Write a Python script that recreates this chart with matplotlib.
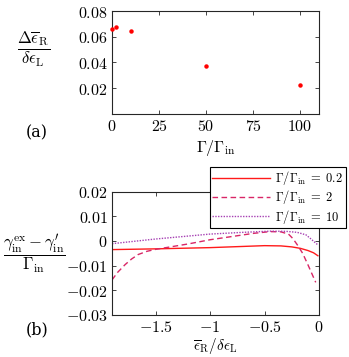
import matplotlib
matplotlib.use("Agg")
import matplotlib.pyplot as plt
from matplotlib.ticker import FuncFormatter, FixedLocator

plt.rcParams['mathtext.fontset'] = 'cm'
plt.rcParams['font.family'] = 'serif'
plt.rcParams['font.serif'] = ['DejaVu Serif']

# Panel (a) data
gamma_ratio = [0.2, 2, 10, 50, 100]
delta_eps = [0.066, 0.0675, 0.0645, 0.0374, 0.0223]

# Panel (b) data
x_02 = [-1.9, -1.5, -1.0, -0.5, -0.35, -0.25, -0.17, -0.1, -0.05, -0.03, -0.01]
y_02 = [-0.0035, -0.0032, -0.0027, -0.0019, -0.002, -0.0024, -0.003, -0.0039,
        -0.0048, -0.0054, -0.006]
x_2 = [-1.9, -1.85, -1.78, -1.72, -1.66, -1.58, -1.5, -1.35, -1.2, -1.0, -0.8,
       -0.6, -0.45, -0.35, -0.28, -0.24, -0.2, -0.15, -0.1, -0.06, -0.03]
y_2 = [-0.0158, -0.0128, -0.0096, -0.0073, -0.0055, -0.0042, -0.0034, -0.0023,
       -0.0012, 0.0005, 0.0018, 0.0031, 0.0038, 0.0037, 0.0028, 0.001, -0.0015,
       -0.005, -0.0098, -0.0138, -0.0168]
x_10 = [-1.9, -1.5, -1.0, -0.7, -0.44, -0.3, -0.2, -0.12, -0.07, -0.04, -0.015]
y_10 = [-0.0011, 0.0008, 0.0028, 0.0035, 0.004, 0.0039, 0.0035, 0.0025, 0.0007,
        -0.0005, -0.0014]

labels_b = [r'$\Gamma/\Gamma_{\rm in}\;=\;0.2$', r'$\Gamma/\Gamma_{\rm in}\;=\;2$',
            r'$\Gamma/\Gamma_{\rm in}\;=\;10$']

fs = 11.5
spine_c = (0.15, 0.15, 0.15)

def mfmt(fmt):
    def f(v, pos):
        return '$' + fmt(v) + '$'
    return FuncFormatter(f)

def style(ax):
    for s in ax.spines.values():
        s.set_color(spine_c)
        s.set_linewidth(0.8)
    ax.tick_params(direction='in', top=True, right=True, length=3,
                   color=spine_c, labelsize=fs, width=0.6, pad=3)

fig = plt.figure(figsize=(3.49, 3.57), dpi=100)

ax1 = fig.add_axes([0.321, 0.681, 0.593, 0.288])
ax1.plot(gamma_ratio, delta_eps, linestyle='none', marker='o', markersize=2.2,
         color=(1, 0, 0), clip_on=False, zorder=5)
ax1.set_xlim(0, 110)
ax1.set_ylim(0, 0.08)
ax1.xaxis.set_major_locator(FixedLocator([0, 25, 50, 75, 100]))
ax1.yaxis.set_major_locator(FixedLocator([0.02, 0.04, 0.06, 0.08]))
ax1.xaxis.set_major_formatter(mfmt(lambda v: '%d' % round(v)))
ax1.yaxis.set_major_formatter(mfmt(lambda v: '%.2f' % v))
style(ax1)
ax1.set_xlabel(r'$\Gamma/\Gamma_{\rm in}$', fontsize=fs, labelpad=2)
fig.text(0.097, 0.86, r'$\dfrac{\Delta\overline{\epsilon}_{\rm R}}{\delta\epsilon_{\rm L}}$',
         fontsize=12, ha='center', va='center')
fig.text(0.105, 0.627, '(a)', fontsize=fs, ha='center', va='center')

ax2 = fig.add_axes([0.321, 0.118, 0.593, 0.345])
ax2.plot(x_02, y_02, '-', color=(1, 0.1, 0.1), lw=1.0, label=labels_b[0])
ax2.plot(x_2, y_2, '--', color=(0.85, 0.15, 0.4), lw=1.0, dashes=(4, 2.5),
         label=labels_b[1])
ax2.plot(x_10, y_10, linestyle=(0, (1, 1)), color=(0.65, 0.25, 0.7), lw=1.0,
         label=labels_b[2])
ax2.set_xlim(-1.9, 0.0)
ax2.set_ylim(-0.03, 0.02)
ax2.xaxis.set_major_locator(FixedLocator([-1.5, -1, -0.5, 0]))
ax2.yaxis.set_major_locator(FixedLocator([-0.03, -0.02, -0.01, 0, 0.01, 0.02]))
ax2.xaxis.set_major_formatter(mfmt(lambda v: ('%g' % v) if abs(v) > 1e-9 else '0'))
ax2.yaxis.set_major_formatter(mfmt(lambda v: ('%.2f' % v) if abs(v) > 1e-9 else '0'))
style(ax2)
ax2.set_xlabel(r'$\overline{\epsilon}_{\rm R}/\delta\epsilon_{\rm L}$', fontsize=11, labelpad=0)
fig.text(0.097, 0.29,
         r'$\dfrac{\gamma^{\rm ex}_{\rm in}-\gamma^{\prime}_{\rm in}}{\Gamma_{\rm in}}$',
         fontsize=12, ha='center', va='center')
fig.text(0.105, 0.075, '(b)', fontsize=fs, ha='center', va='center')

leg = fig.legend(loc='upper right', bbox_to_anchor=(0.99, 0.533), fontsize=9,
                 handlelength=4.6, frameon=True, fancybox=False,
                 borderpad=0.2, labelspacing=0.1, handletextpad=0.4,
                 borderaxespad=0)
leg.get_frame().set_edgecolor('black')
leg.get_frame().set_linewidth(0.8)
leg.get_frame().set_alpha(1)

fig.savefig('out.png', dpi=100)
